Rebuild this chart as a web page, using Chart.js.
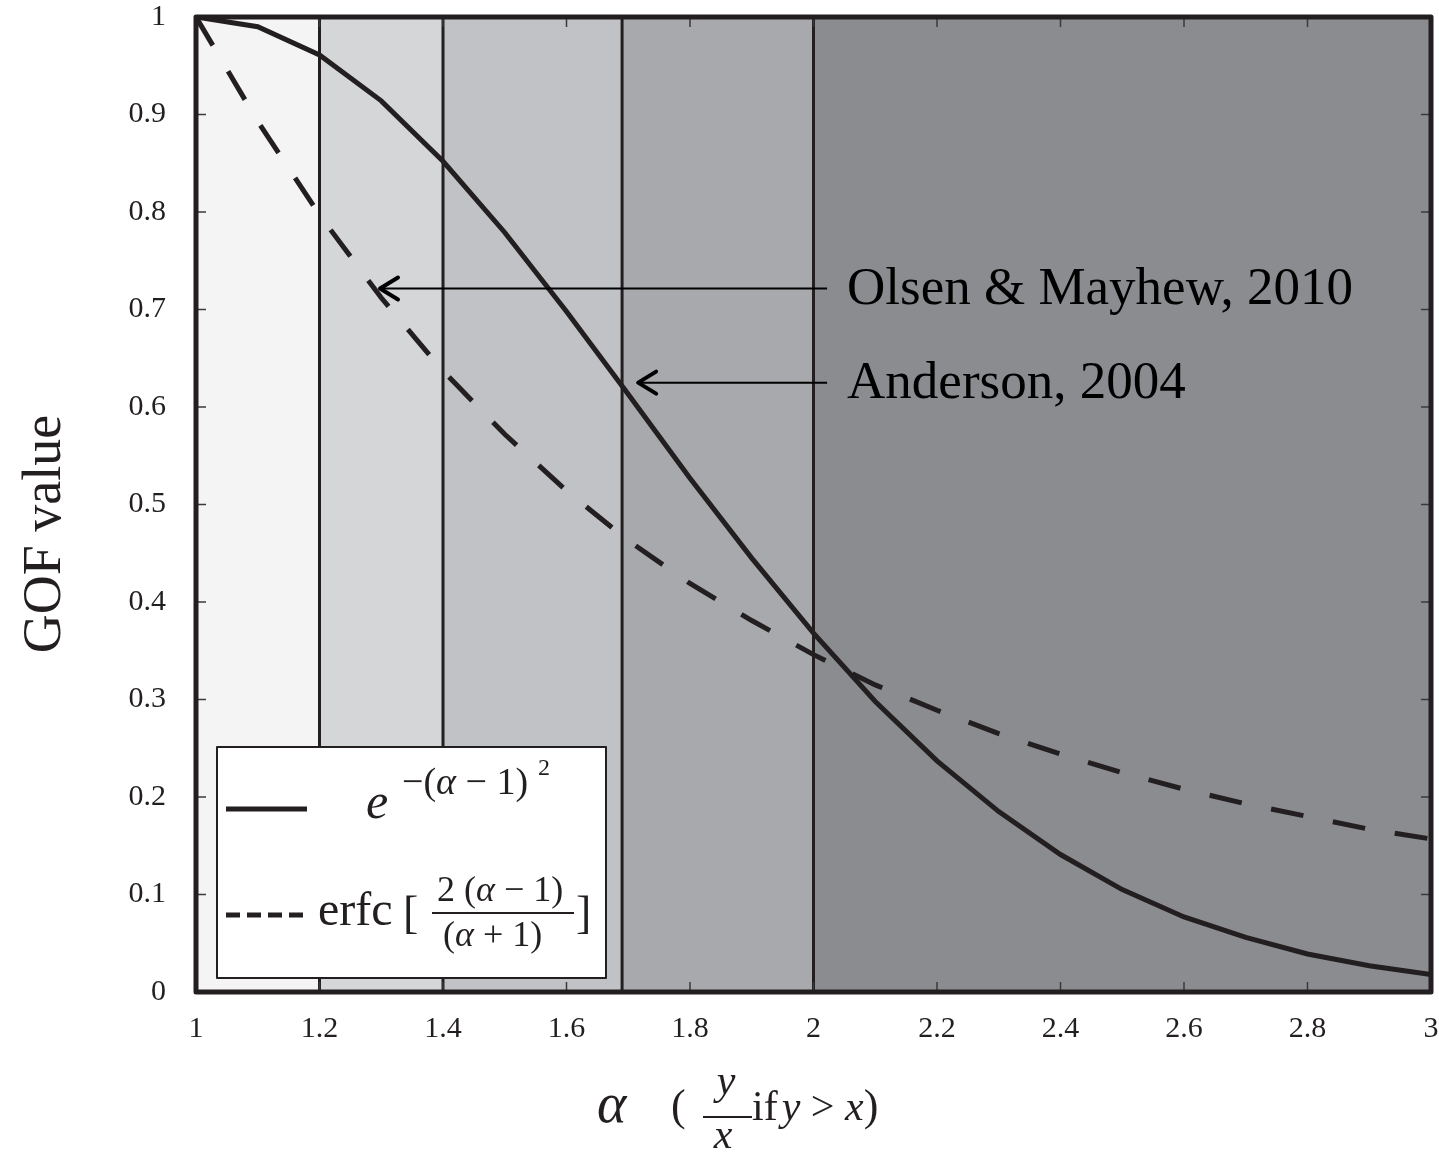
<!DOCTYPE html>
<html>
<head>
<meta charset="utf-8">
<script src="https://cdn.jsdelivr.net/npm/chart.js@4.4.0/dist/chart.umd.min.js"></script>
<style>
  html, body { margin: 0; padding: 0; background: #fff; }
  #wrap { width: 1439px; height: 1157px; }
</style>
</head>
<body>
<div id="wrap"><canvas id="gof" width="1439" height="1157"></canvas></div>
<script>
// alpha grid and the two goodness-of-fit curves
var alphaValues = [1, 1.1, 1.2, 1.3, 1.4, 1.5, 1.6, 1.7, 1.8, 1.9, 2, 2.1, 2.2, 2.3, 2.4, 2.5, 2.6, 2.7, 2.8, 2.9, 3];
var expValues  = [1, 0.990, 0.961, 0.914, 0.852, 0.779, 0.698, 0.613, 0.527, 0.445, 0.368, 0.298, 0.237, 0.185, 0.141, 0.105, 0.077, 0.056, 0.039, 0.027, 0.018];
var erfcValues = [1, 0.893, 0.797, 0.712, 0.637, 0.572, 0.514, 0.463, 0.419, 0.381, 0.346, 0.315, 0.289, 0.265, 0.244, 0.225, 0.208, 0.193, 0.180, 0.167, 0.157];

// shaded alpha bands and the lines between them
var bandEdges = [1, 1.2, 1.4, 1.69, 2, 3];
var bandColors = ['#f4f4f4', '#d5d6d8', '#c1c2c5', '#a8a9ad', '#8b8c90'];
var dividers = [1.2, 1.4, 1.69, 2];

// cited thresholds (arrow tail x, arrow head x, y)
var citeLabels = ['Olsen & Mayhew, 2010', 'Anderson, 2004'];
var citeTailX = [2.022, 2.022];
var citeHeadX = [1.298, 1.716];
var citeY = [0.7215, 0.625];

var ink = '#231f20';
var serif = '"Liberation Serif", "DejaVu Serif", serif';

function pts(ys) {
  return alphaValues.map(function (a, i) { return { x: a, y: ys[i] }; });
}

// draw a row of text runs, each {t, f(ont), gap}
function runs(ctx, x, y, list) {
  list.forEach(function (r) {
    ctx.font = r.f;
    ctx.fillText(r.t, x, y + (r.dy || 0));
    x += ctx.measureText(r.t).width + (r.gap || 0);
  });
  return x;
}

function hline(ctx, x0, x1, y, w, dash) {
  ctx.save();
  ctx.lineWidth = w;
  ctx.setLineDash(dash || []);
  ctx.beginPath();
  ctx.moveTo(x0, y);
  ctx.lineTo(x1, y);
  ctx.stroke();
  ctx.restore();
}

var decor = {
  id: 'decor',
  beforeDatasetsDraw: function (chart) {
    var ctx = chart.ctx, a = chart.chartArea, x = chart.scales.x;
    ctx.save();
    for (var i = 0; i < bandColors.length; i++) {
      var x0 = x.getPixelForValue(bandEdges[i]);
      var x1 = x.getPixelForValue(bandEdges[i + 1]);
      ctx.fillStyle = bandColors[i];
      ctx.fillRect(x0, a.top, x1 - x0, a.bottom - a.top);
    }
    ctx.strokeStyle = ink;
    ctx.lineWidth = 3;
    dividers.forEach(function (v) {
      var px = x.getPixelForValue(v);
      ctx.beginPath();
      ctx.moveTo(px, a.top);
      ctx.lineTo(px, a.bottom);
      ctx.stroke();
    });
    ctx.restore();
  },
  afterDatasetsDraw: function (chart) {
    var ctx = chart.ctx, a = chart.chartArea, x = chart.scales.x, y = chart.scales.y;
    ctx.save();
    ctx.fillStyle = '#000';
    ctx.strokeStyle = '#000';

    // citation arrows
    for (var i = 0; i < citeLabels.length; i++) {
      var tx = x.getPixelForValue(citeTailX[i]);
      var hx = x.getPixelForValue(citeHeadX[i]);
      var py = y.getPixelForValue(citeY[i]);
      hline(ctx, hx + 2, tx, py, 2);
      ctx.lineWidth = 4;
      ctx.lineCap = 'round';
      ctx.lineJoin = 'round';
      ctx.beginPath();
      ctx.moveTo(hx + 18, py - 11);
      ctx.lineTo(hx, py);
      ctx.lineTo(hx + 18, py + 11);
      ctx.stroke();
      ctx.lineCap = 'butt';
      ctx.font = '53px ' + serif;
      ctx.textBaseline = 'alphabetic';
      ctx.fillText(citeLabels[i], tx + 20, py + 15);
    }

    // legend box
    ctx.fillStyle = '#fff';
    ctx.fillRect(217, 747, 389, 231);
    ctx.strokeStyle = ink;
    ctx.lineWidth = 2;
    ctx.strokeRect(217, 747, 389, 231);
    ctx.fillStyle = ink;
    ctx.strokeStyle = ink;
    hline(ctx, 226, 307, 809, 5);
    hline(ctx, 226, 305, 915, 5, [14, 7]);

    var it = 'italic ';
    runs(ctx, 366, 818, [{ t: 'e', f: it + '50px ' + serif }]);
    var ex = runs(ctx, 402, 794, [
      { t: '\u2212(', f: '38px ' + serif },
      { t: '\u03b1', f: it + '38px ' + serif },
      { t: ' \u2212 1)', f: '38px ' + serif }
    ]);
    runs(ctx, ex + 10, 775, [{ t: '2', f: '24px ' + serif }]);

    runs(ctx, 318, 925, [{ t: 'erfc', f: '48px ' + serif }]);
    runs(ctx, 403, 928, [{ t: '[', f: '46px ' + serif }]);
    runs(ctx, 576, 928, [{ t: ']', f: '46px ' + serif }]);
    var num = [{ t: '2 (', f: '36px ' + serif }, { t: '\u03b1', f: it + '36px ' + serif }, { t: ' \u2212 1)', f: '36px ' + serif }];
    var den = [{ t: '(', f: '36px ' + serif }, { t: '\u03b1', f: it + '36px ' + serif }, { t: ' + 1)', f: '36px ' + serif }];
    runs(ctx, 437, 901, num);
    hline(ctx, 432, 574, 913, 2);
    runs(ctx, 443, 946, den);

    // inward tick marks on all four sides
    ctx.strokeStyle = '#3a3a3a';
    ctx.lineWidth = 1.5;
    y.ticks.forEach(function (t) {
      if (t.value <= 0 || t.value >= 1) return;
      var py = y.getPixelForValue(t.value);
      ctx.beginPath();
      ctx.moveTo(a.left, py); ctx.lineTo(a.left + 10, py);
      ctx.moveTo(a.right, py); ctx.lineTo(a.right - 10, py);
      ctx.stroke();
    });
    x.ticks.forEach(function (t) {
      if (t.value <= 1 || t.value >= 3) return;
      var px = x.getPixelForValue(t.value);
      ctx.beginPath();
      ctx.moveTo(px, a.top); ctx.lineTo(px, a.top + 10);
      ctx.moveTo(px, a.bottom); ctx.lineTo(px, a.bottom - 10);
      ctx.stroke();
    });

    // plot frame
    ctx.strokeStyle = ink;
    ctx.lineWidth = 5;
    ctx.strokeRect(a.left, a.top, a.right - a.left, a.bottom - a.top);
    ctx.restore();
  },
  afterDraw: function (chart) {
    var ctx = chart.ctx;
    ctx.save();
    ctx.fillStyle = ink;
    ctx.strokeStyle = ink;
    ctx.textBaseline = 'alphabetic';

    // y axis title
    ctx.save();
    ctx.translate(60, 534);
    ctx.rotate(-Math.PI / 2);
    ctx.font = '54px ' + serif;
    ctx.textAlign = 'center';
    ctx.fillText('GOF value', 0, 0);
    ctx.restore();

    // x axis title: alpha ( y/x if y > x)
    runs(ctx, 597, 1122, [{ t: '\u03b1', f: 'italic 56px ' + serif }]);
    runs(ctx, 671, 1120, [{ t: '(', f: '44px ' + serif }]);
    ctx.textAlign = 'center';
    ctx.font = 'italic 42px ' + serif;
    ctx.fillText('y', 726, 1094);
    ctx.fillText('x', 723, 1148);
    ctx.textAlign = 'left';
    hline(ctx, 703, 752, 1117, 2);
    runs(ctx, 752, 1120, [
      { t: 'if', f: '42px ' + serif, gap: 4 },
      { t: 'y', f: 'italic 42px ' + serif },
      { t: ' > ', f: '42px ' + serif },
      { t: 'x', f: 'italic 42px ' + serif },
      { t: ')', f: '44px ' + serif }
    ]);
    ctx.restore();
  }
};

new Chart(document.getElementById('gof'), {
  type: 'line',
  data: {
    datasets: [
      {
        label: 'exp',
        data: pts(expValues),
        borderColor: ink,
        borderWidth: 5,
        pointRadius: 0,
        tension: 0
      },
      {
        label: 'erfc',
        data: pts(erfcValues),
        borderColor: ink,
        borderWidth: 5,
        borderDash: [33, 30],
        pointRadius: 0,
        tension: 0
      }
    ]
  },
  options: {
    responsive: false,
    animation: false,
    devicePixelRatio: 1,
    layout: { padding: { top: 17, right: 8, left: 0, bottom: 0 } },
    plugins: { legend: { display: false }, tooltip: { enabled: false } },
    scales: {
      x: {
        type: 'linear',
        min: 1,
        max: 3,
        grid: { display: false, drawTicks: false },
        border: { display: false },
        ticks: {
          stepSize: 0.2,
          padding: 19,
          color: ink,
          font: { family: serif, size: 30 },
          maxRotation: 0,
          callback: function (v) { return +v.toFixed(1) + ''; }
        },
        afterFit: function (s) { s.height = 165; s.paddingLeft = 0; s.paddingRight = 0; }
      },
      y: {
        min: 0,
        max: 1,
        grid: { display: false, drawTicks: false },
        border: { display: false },
        ticks: {
          stepSize: 0.1,
          padding: 30,
          color: ink,
          font: { family: serif, size: 30 },
          callback: function (v) { return +v.toFixed(1) + ''; }
        },
        afterFit: function (s) { s.width = 196; s.paddingTop = 0; s.paddingBottom = 0; }
      }
    }
  },
  plugins: [decor]
});
</script>
</body>
</html>
